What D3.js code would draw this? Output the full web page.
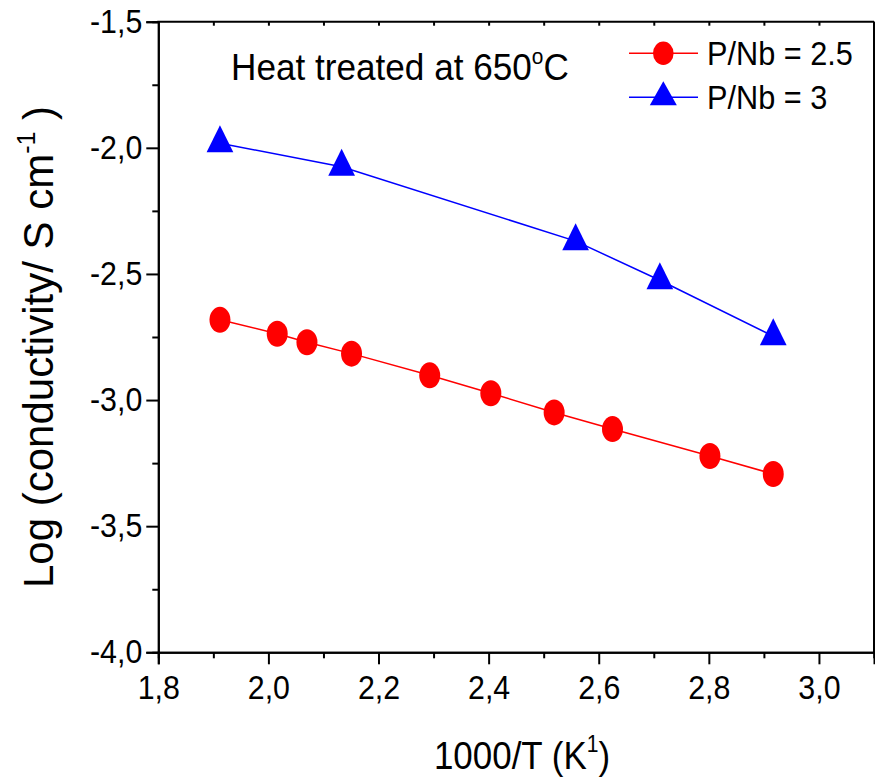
<!DOCTYPE html>
<html>
<head>
<meta charset="utf-8">
<script src="https://cdn.jsdelivr.net/npm/d3@7"></script>
<style>
  html, body { margin: 0; padding: 0; background: #fff; }
  svg text { font-family: "Liberation Sans", Arial, Helvetica, sans-serif; fill: #000; }
</style>
</head>
<body>
<svg id="chart" width="875" height="780"></svg>
<script>
// Conductivity data: x = 1000/T (K^-1), y = log10(sigma / S cm^-1)
const xRed = [1.912, 2.016, 2.070, 2.151, 2.293, 2.404, 2.519, 2.625, 2.802, 2.917];
const yRed = [-2.682, -2.737, -2.771, -2.816, -2.902, -2.973, -3.049, -3.115, -3.222, -3.293];
const xBlue = [1.912, 2.133, 2.558, 2.711, 2.917];
const yBlue = [-1.982, -2.075, -2.370, -2.525, -2.747];
const seriesNames = ["P/Nb = 2.5", "P/Nb = 3"];
const xTicks = [1.8, 2.0, 2.2, 2.4, 2.6, 2.8, 3.0];
const yTicks = [-4.0, -3.5, -3.0, -2.5, -2.0, -1.5];

const svg = d3.select("#chart");
const plotL = 158.3, plotR = 874, plotT = 21.7, plotB = 652.3;

const x = d3.scaleLinear().domain([1.8, 3.1]).range([plotL, plotR]);
const y = d3.scaleLinear().domain([-4.0, -1.5]).range([plotB, plotT]);

// decimal comma, plain hyphen for negatives
const locale = d3.formatLocale({ decimal: ",", thousands: ".", grouping: [3], currency: ["", ""], minus: "-" });
const fmt = locale.format(".1f");

// minor ticks
const xMinor = d3.range(1.9, 3.1, 0.2).map(v => +v.toFixed(1));
const yMinor = [-3.75, -3.25, -2.75, -2.25, -1.75];

const axisStyle = g => {
  g.selectAll(".domain").attr("stroke", "#000").attr("stroke-width", 2);
  g.selectAll(".tick line").attr("stroke", "#000").attr("stroke-width", 2);
};

const tickFont = 33, tickSx = 0.92;

// bottom axis
svg.append("g").attr("transform", `translate(0,${plotB})`)
  .call(d3.axisBottom(x).tickValues(xMinor).tickSize(6).tickFormat(""))
  .call(axisStyle);
const gx = svg.append("g").attr("transform", `translate(0,${plotB})`)
  .call(d3.axisBottom(x).tickValues(xTicks).tickSize(12).tickPadding(11).tickFormat(fmt))
  .call(axisStyle);
gx.selectAll(".tick text").attr("font-size", tickFont).attr("transform", `scale(${tickSx},1)`);

// left axis
svg.append("g").attr("transform", `translate(${plotL},0)`)
  .call(d3.axisLeft(y).tickValues(yMinor).tickSize(6).tickFormat(""))
  .call(axisStyle);
const gy = svg.append("g").attr("transform", `translate(${plotL},0)`)
  .call(d3.axisLeft(y).tickValues(yTicks).tickSize(12).tickPadding(4).tickFormat(fmt))
  .call(axisStyle);
gy.selectAll(".tick text").attr("font-size", tickFont)
  .attr("x", -16 / tickSx).attr("transform", `scale(${tickSx},1)`);

// top and right frame with short inner ticks
const topAxis = svg.append("g").attr("transform", `translate(0,${plotT})`)
  .call(d3.axisBottom(x).tickValues(d3.range(1.9, 3.1, 0.1).map(v => +v.toFixed(1))).tickSize(4).tickFormat(""))
  .call(axisStyle);
topAxis.select(".domain").remove();
svg.append("line").attr("x1", plotL - 1).attr("x2", plotR).attr("y1", plotT).attr("y2", plotT)
  .attr("stroke", "#000").attr("stroke-width", 2);
svg.append("line").attr("x1", plotR).attr("x2", plotR).attr("y1", plotT).attr("y2", plotB)
  .attr("stroke", "#000").attr("stroke-width", 2);

// series lines
const line = d3.line().x(d => x(d[0])).y(d => y(d[1]));
const red = xRed.map((v, i) => [v, yRed[i]]);
const blue = xBlue.map((v, i) => [v, yBlue[i]]);

svg.append("path").datum(red).attr("d", line)
  .attr("fill", "none").attr("stroke", "#ff0000").attr("stroke-width", 1.5);
svg.append("path").datum(blue).attr("d", line)
  .attr("fill", "none").attr("stroke", "#0000ff").attr("stroke-width", 1.5);

// triangle marker centred on its centroid
const triPath = (w, h) => `M0,${-2 * h / 3}L${w / 2},${h / 3}L${-w / 2},${h / 3}Z`;

svg.append("g").selectAll("ellipse").data(red).join("ellipse")
  .attr("cx", d => x(d[0])).attr("cy", d => y(d[1]))
  .attr("rx", 10.5).attr("ry", 13).attr("fill", "#ff0000");

svg.append("g").selectAll("path").data(blue).join("path")
  .attr("transform", d => `translate(${x(d[0])},${y(d[1])})`)
  .attr("d", triPath(26.7, 27)).attr("fill", "#0000ff");

// annotation
const note = svg.append("text").attr("transform", "translate(231,80) scale(0.95,1)")
  .attr("font-size", 37);
note.append("tspan").text("Heat treated at 650");
note.append("tspan").attr("font-size", 22).attr("dy", -16).text("o");
note.append("tspan").attr("dy", 16).text("C");

// legend
const legendRows = [
  { name: seriesNames[0], color: "#ff0000", shape: "circle", cy: 53.3 },
  { name: seriesNames[1], color: "#0000ff", shape: "triangle", cy: 97.3 }
];
const lg = svg.append("g");
legendRows.forEach(r => {
  lg.append("line").attr("x1", 629).attr("x2", 698).attr("y1", r.cy).attr("y2", r.cy)
    .attr("stroke", r.color).attr("stroke-width", 1.5);
  if (r.shape === "circle") {
    lg.append("ellipse").attr("cx", 663.3).attr("cy", r.cy).attr("rx", 10.3).attr("ry", 11.7).attr("fill", r.color);
  } else {
    lg.append("path").attr("transform", `translate(663.3,${r.cy})`)
      .attr("d", triPath(27, 24)).attr("fill", r.color);
  }
  lg.append("text").attr("transform", `translate(707,${r.cy + 11.7}) scale(0.93,1)`)
    .attr("font-size", 33).text(r.name);
});

// axis titles
const xt = svg.append("text").attr("transform", "translate(522,769) scale(0.92,1)")
  .attr("text-anchor", "middle").attr("font-size", 38);
xt.append("tspan").text("1000/T (K");
xt.append("tspan").attr("font-size", 23).attr("dy", -17).text("1");
xt.append("tspan").attr("dy", 17).text(")");

const yt = svg.append("text").attr("transform", "translate(53,347) rotate(-90)")
  .attr("text-anchor", "middle").attr("font-size", 42);
yt.append("tspan").text("Log (conductivity/ S cm");
yt.append("tspan").attr("font-size", 25).attr("dy", -18).text("-1");
yt.append("tspan").attr("dy", 18).text(" )");
</script>
</body>
</html>
